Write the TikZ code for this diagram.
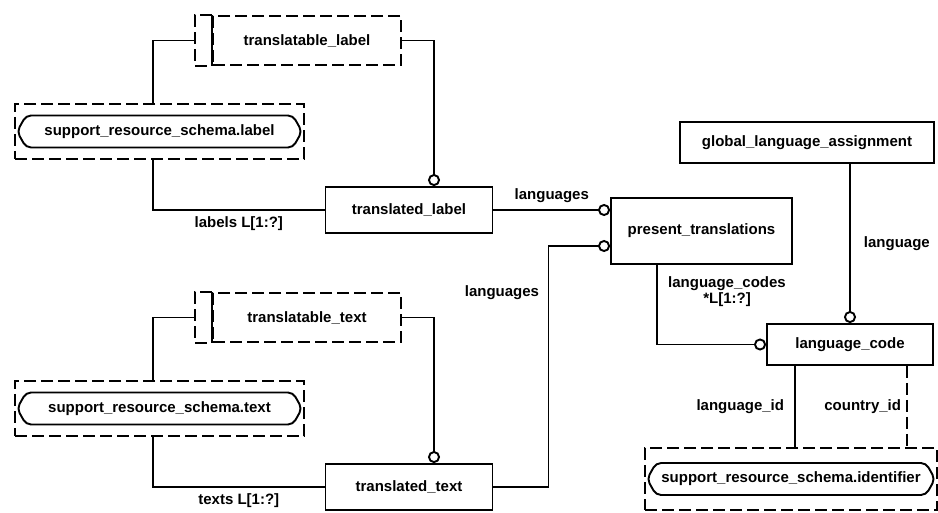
\documentclass[tikz,border=0pt]{standalone}
\usepackage{fontspec}
\setmainfont{Liberation Sans}
\usetikzlibrary{arrows.meta}

% inner outline of a reference box
\newcommand{\refpill}[1]{%
  \draw[rounded corners=5] ([xshift=3]#1.west) -- ([xshift=12,yshift=-16]#1.west) -- ([xshift=-12,yshift=-16]#1.east)
    -- ([xshift=-3]#1.east) -- ([xshift=-12,yshift=16]#1.east) -- ([xshift=12,yshift=16]#1.west) -- cycle;}

\begin{document}
\begin{tikzpicture}[x=1pt, y=-1pt, line width=1.9pt, font=\fontsize{15}{20}\selectfont\bfseries,
  ent/.style={draw, inner sep=0},
  dsh/.style={dash pattern=on 12pt off 5pt},
  lbl/.style={inner sep=1pt},
  circ/.style={-{Circle[open, length=12pt, width=12pt]}}]
\useasboundingbox (0,0) rectangle (938,513);

\foreach \w/\s/\dy in {label/labels/0, text/texts/277} {
 \node[ent, dsh, minimum width=188, minimum height=49] (sel\w) at (307,{40.5+\dy}) {translatable\_\w};
 \draw[dsh] (sel\w.north west) -- ++(-17,0) coordinate (bar\w) |- (sel\w.south west);
 \draw (sel\w.north west) -- (sel\w.south west);
 \node[ent, dsh, minimum width=289, minimum height=55] (srs\w) at (159.5,{131.5+\dy}) {support\_resource\_schema.\w};
 \refpill{srs\w}
 \node[ent, minimum width=167, minimum height=46] (tr\w) at (409,{210+\dy}) {translated\_\w};
 \draw (bar\w |- sel\w.west) -| ([xshift=-6.5]srs\w.north);
 \draw ([xshift=-6.5]srs\w.south) |- (tr\w.west) node[lbl, pos=.75, below=5pt] {\s\ L[1:?]};
 \draw[circ] (sel\w.east) -| ([xshift=25]tr\w.north);
}

\node[ent, minimum width=181, minimum height=66] (pt) at (701.5,231) {present\_translations};
\node[ent, minimum width=254, minimum height=41] (gla) at (807,142.5) {global\_language\_assignment};
\node[ent, minimum width=166, minimum height=41] (lc) at (850,344.5) {language\_code};
\node[ent, dsh, minimum width=292, minimum height=62] (sid) at (791,479) {support\_resource\_schema.identifier};
\refpill{sid}

\draw[circ] (trlabel.east) -- (trlabel.east -| pt.west) node[lbl, midway, above=5pt] {languages};
\draw[circ] (trtext.east) -- ++(55,0) |- ([yshift=-15]pt.west);
\node[lbl, anchor=east] (lgs) at (541,293) {languages};

\draw[circ] (gla.south -| lc.north) -- (lc.north) node[lbl, midway, right=12pt] {language};
\draw[circ] ([xshift=-44.5]pt.south) |- (lc.west);
\node[lbl, align=center] (lcs) at (727,292) {language\_codes\\[-4pt]*L[1:?]};

\draw ([xshift=-55]lc.south) -- ([xshift=-55]lc.south |- sid.north) node[lbl, midway, left=9pt] {language\_id};
\draw[dsh] ([xshift=57]lc.south) -- ([xshift=57]lc.south |- sid.north) node[lbl, midway, left=4pt] {country\_id};
\end{tikzpicture}
\end{document}
